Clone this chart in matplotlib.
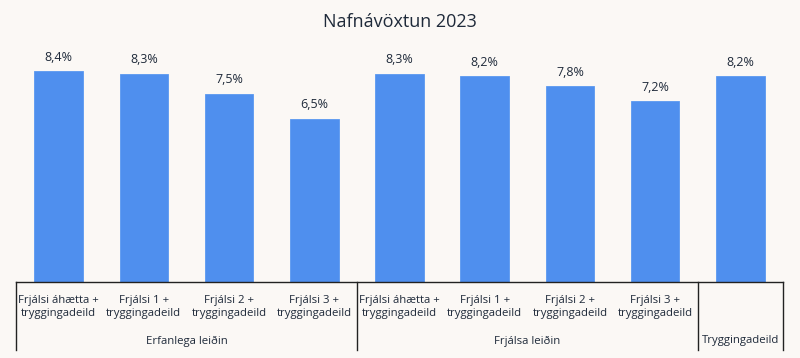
import matplotlib
matplotlib.use("Agg")
import matplotlib.pyplot as plt

categories = ["Frjálsi áhætta +\ntryggingadeild", "Frjálsi 1 +\ntryggingadeild",
              "Frjálsi 2 +\ntryggingadeild", "Frjálsi 3 +\ntryggingadeild",
              "Frjálsi áhætta +\ntryggingadeild", "Frjálsi 1 +\ntryggingadeild",
              "Frjálsi 2 +\ntryggingadeild", "Frjálsi 3 +\ntryggingadeild",
              "Tryggingadeild"]
values = [8.4, 8.3, 7.5, 6.5, 8.3, 8.2, 7.8, 7.2, 8.2]
groups = ["Erfanlega leiðin", "Frjálsa leiðin", ""]
group_sizes = [4, 4, 1]
title = "Nafnávöxtun 2023"

bg = "#FBF8F5"
bar_color = "#4F8FEE"
txt = "#1F2A3A"
plt.rcParams['font.family'] = ['Open Sans', 'DejaVu Sans']

fig = plt.figure(figsize=(8, 3.58), dpi=100, facecolor=bg)
ax = fig.add_axes([16/800, 1-282/358, (783-16)/800, 251/358])
ax.set_facecolor(bg)
x = list(range(len(values)))
ax.bar(x, values, width=0.57, color=bar_color, edgecolor="#5A98F0", linewidth=0.6)
ax.set_xlim(-0.5, len(values)-0.5)
ax.set_ylim(0, 10)
for xi, v in zip(x, values):
    ax.text(xi, v + 0.3, f"{v:.1f}%".replace(".", ","), ha="center", va="bottom",
            fontsize=9, color=txt)
for s in ["top", "right", "left"]:
    ax.spines[s].set_visible(False)
ax.spines["bottom"].set_color("#222222")
ax.spines["bottom"].set_linewidth(1.0)
ax.set_yticks([])
ax.set_xticks([])

# category labels
cat_labels = categories[:8] + [""]
for xi, lab in zip(x, cat_labels):
    ax.text(xi, -0.52, lab, ha="center", va="top", fontsize=8.2, color=txt,
            linespacing=1.3, transform=ax.transData, clip_on=False)
ax.text(8, -2.35, "Tryggingadeild", ha="center", va="center", fontsize=8.2,
        color=txt, clip_on=False)

# group labels and separators
start = 0
bounds = [-0.5]
for g, n in zip(groups, group_sizes):
    end = start + n
    bounds.append(end - 0.5)
    if g:
        ax.text((start + end - 1) / 2, -2.35, g, ha="center", va="center",
                fontsize=8.2, color=txt, clip_on=False)
    start = end
for b in bounds:
    ax.plot([b, b], [0, -2.7], color="#222222", lw=1.0, clip_on=False)

fig.text(0.5, 1-22/358, title, ha="center", va="center", fontsize=13, color=txt)
fig.savefig("out.png", dpi=100, facecolor=bg)
